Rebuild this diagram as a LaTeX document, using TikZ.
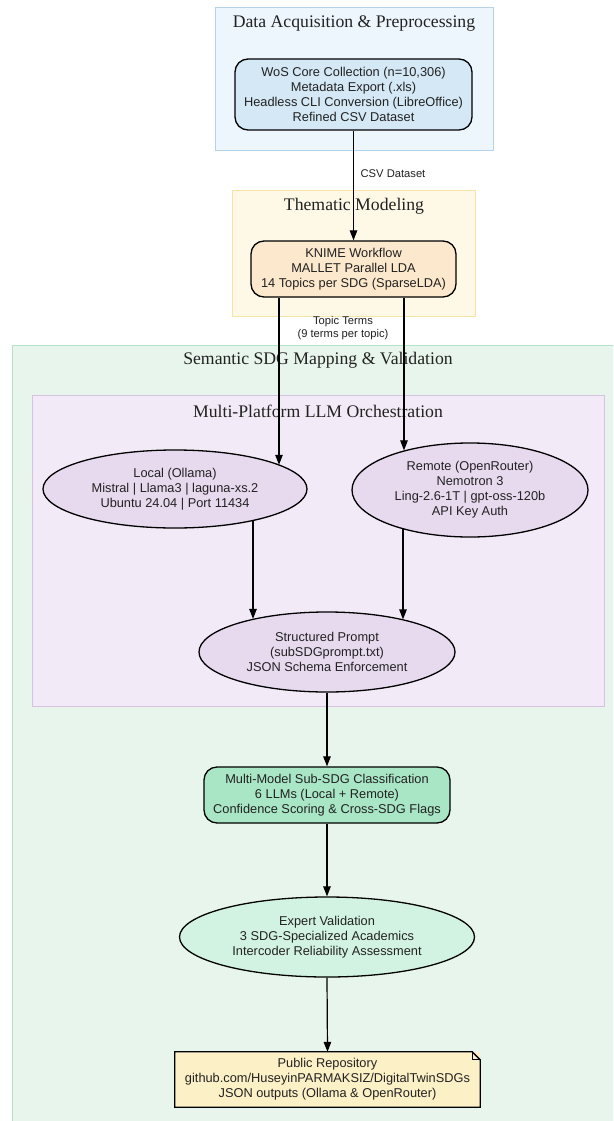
\documentclass[tikz,border=0pt]{standalone}
\usepackage{fontspec}
\setmainfont{Liberation Serif}
\newfontfamily\bodyfont{Liberation Sans}
\usetikzlibrary{shapes.geometric,arrows.meta,calc}
\definecolor{cAfill}{HTML}{EEF6FD}
\definecolor{cAdraw}{HTML}{B4D3E9}
\definecolor{wosfill}{HTML}{D5E8F5}
\definecolor{cBfill}{HTML}{FEF8E7}
\definecolor{cBdraw}{HTML}{F7E3A6}
\definecolor{knimefill}{HTML}{FCE8CC}
\definecolor{cCfill}{HTML}{E8F5EC}
\definecolor{cCdraw}{HTML}{B7E2C8}
\definecolor{cDfill}{HTML}{F2EAF6}
\definecolor{cDdraw}{HTML}{D8C2E2}
\definecolor{ellfill}{HTML}{E7DAEE}
\definecolor{mmfill}{HTML}{A9E6C6}
\definecolor{expfill}{HTML}{D3F3E2}
\definecolor{pubfill}{HTML}{FCF0C6}
\definecolor{txt}{HTML}{222222}
\begin{document}
\begin{tikzpicture}[x=1pt,y=-1pt,
  cluster/.style={draw=#1, line width=1pt, inner sep=0pt, rectangle},
  ctitle/.style={font=\fontsize{17.7}{20}\selectfont, text=txt, inner sep=0pt},
  body/.style={align=center, text=txt, inner sep=0pt, font=\bodyfont\fontsize{12.8}{15}\selectfont},
  rbox/.style={body, draw=black, line width=1.3pt, rounded corners=13pt, rectangle},
  ell/.style={body, draw=black, line width=1.3pt, ellipse, fill=ellfill},
  elabel/.style={align=center, text=txt, inner sep=0pt, font=\bodyfont\fontsize{11.2}{13}\selectfont},
  arr/.style={line width=1.2pt, -{Triangle[length=10pt,width=7.5pt]}}]
\useasboundingbox (0,0) rectangle (613,1121);
\clip (0,0) rectangle (613,1121);
\fill[white] (0,0) rectangle (613,1121);
% clusters
\node[cluster=cAdraw, fill=cAfill, minimum width=278pt, minimum height=142pt] (cA) at (354,79) {};
\node[ctitle] (tA) at (354,24) {Data Acquisition \& Preprocessing};
\node[cluster=cBdraw, fill=cBfill, minimum width=243pt, minimum height=126pt] (cB) at (353.5,253) {};
\node[ctitle] (tB) at (354,206) {Thematic Modeling};
\node[cluster=cCdraw, fill=cCfill, minimum width=610pt, minimum height=790pt] (cC) at (317,740) {};
\node[ctitle] (tC) at (318,360) {Semantic SDG Mapping \& Validation};
\node[cluster=cDdraw, fill=cDfill, minimum width=572pt, minimum height=311pt] (cD) at (318,550.5) {};
\node[ctitle] (tD) at (318,411) {Multi-Platform LLM Orchestration};
% nodes
\node[rbox, fill=wosfill, minimum width=237pt, minimum height=71pt] (wos) at (353.5,94.5)
  {WoS Core Collection (n=10,306)\\Metadata Export (.xls)\\Headless CLI Conversion (LibreOffice)\\Refined CSV Dataset};
\node[rbox, fill=knimefill, minimum width=205pt, minimum height=56pt] (knime) at (353.5,269)
  {KNIME Workflow\\MALLET Parallel LDA\\14 Topics per SDG (SparseLDA)};
\node[ell, minimum width=264pt, minimum height=78pt] (local) at (175,489)
  {Local (Ollama)\\Mistral | Llama3 | laguna-xs.2\\Ubuntu 24.04 | Port 11434};
\node[ell, minimum width=236pt, minimum height=94pt] (remote) at (470,490)
  {Remote (OpenRouter)\\Nemotron 3\\Ling-2.6-1T | gpt-oss-120b\\API Key Auth};
\node[ell, minimum width=256pt, minimum height=80pt] (prompt) at (327,652)
  {Structured Prompt\\(subSDGprompt.txt)\\JSON Schema Enforcement};
\node[rbox, fill=mmfill, minimum width=246pt, minimum height=56pt] (mm) at (327,795)
  {Multi-Model Sub-SDG Classification\\6 LLMs (Local + Remote)\\Confidence Scoring \& Cross-SDG Flags};
\node[ell, fill=expfill, minimum width=295pt, minimum height=80pt] (expert) at (327,937)
  {Expert Validation\\3 SDG-Specialized Academics\\Intercoder Reliability Assessment};
\node[body, fill=pubfill, minimum width=305pt, minimum height=55pt] (pub) at (327.5,1079.5)
  {Public Repository\\github.com/HuseyinPARMAKSIZ/DigitalTwinSDGs\\JSON outputs (Ollama \& OpenRouter)};
\draw[line width=1.3pt, line join=miter] (pub.north west) -- ($(pub.north east)+(-8,0)$) -- ($(pub.north east)+(0,8)$) -- (pub.south east) -- (pub.south west) -- cycle;
\draw[line width=1pt] ($(pub.north east)+(-8,0)$) -- ($(pub.north east)+(-8,8)$) -- ($(pub.north east)+(0,8)$);
% edges
\coordinate (xa) at (279,0);
\coordinate (xb) at (404,0);
\coordinate (xc) at (253,0);
\coordinate (xd) at (403,0);
\draw[arr] (wos.south) -- (knime.north);
\node[elabel] (lcsv) at (393,174) {CSV Dataset};
\draw[arr] (knime.south -| xa) -- (xa |- local.13);
\draw[arr] (knime.south -| xb) -- (xb |- remote.149);
\node[elabel] (lterms) at (343,328) {Topic Terms\\(9 terms per topic)};
\draw[arr] (xc |- local.-22) -- (xc |- prompt.156);
\draw[arr] (xd |- remote.210) -- (xd |- prompt.23);
\draw[arr] (prompt.south) -- (mm.north);
\draw[arr] (mm.south) -- (expert.north);
\draw[arr] (expert.south) -- (pub.north);
\end{tikzpicture}
\end{document}
